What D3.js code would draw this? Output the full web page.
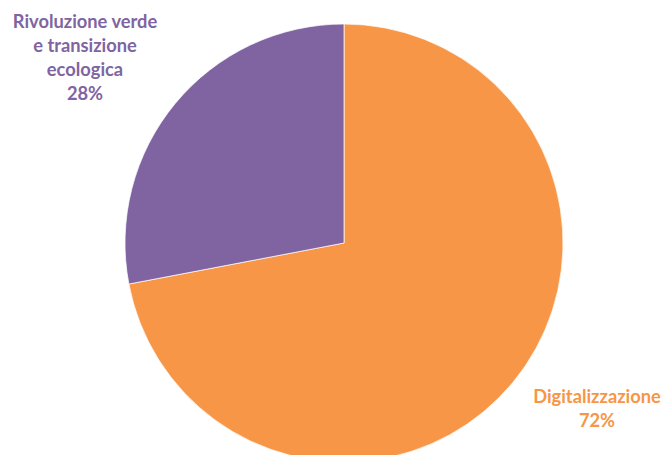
<!DOCTYPE html>
<html><head><meta charset="utf-8">
<script src="https://cdn.jsdelivr.net/npm/d3@7"></script>
<style>body{margin:0;background:#fff}</style>
</head><body>
<script>
const categories = ["Digitalizzazione", "Rivoluzione verde e transizione ecologica"];
const values = [72, 28];
const labelLines = [["Digitalizzazione", "72%"], ["Rivoluzione verde", "e transizione", "ecologica", "28%"]];
const colors = ["#F79646", "#8064A2"];
const textColors = ["#F79646", "#8064A2"];

const W = 662, H = 455;
const svg = d3.select("body").append("svg").attr("width", W).attr("height", H);
const cx = 344, cy = 243, r = 219;
const pie = d3.pie().sort(null).value(d => d)(values);
const arc = d3.arc().innerRadius(0).outerRadius(r);
const g = svg.append("g").attr("transform", `translate(${cx},${cy})`);
g.selectAll("path").data(pie).join("path")
  .attr("d", arc).attr("fill", (d, i) => colors[i])
  .attr("stroke", "#fff").attr("stroke-width", 0.7);

const labelPos = [[597, 403], [85, 28]];
labelLines.forEach((lines, i) => {
  const t = svg.append("text").attr("text-anchor", "middle")
    .attr("font-family", "Lato, 'Open Sans', sans-serif").attr("font-weight", "bold")
    .attr("font-size", 18.3).attr("fill", textColors[i]);
  lines.forEach((l, j) => {
    t.append("tspan").attr("x", labelPos[i][0]).attr("y", labelPos[i][1] + j * 24).text(l);
  });
});
</script>
</body></html>
